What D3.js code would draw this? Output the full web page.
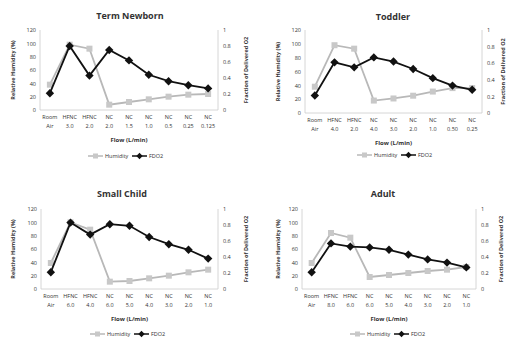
<!DOCTYPE html>
<html>
<head>
<meta charset="utf-8">
<script src="https://cdn.jsdelivr.net/npm/d3@7"></script>
<style>
  body { margin: 0; background: #fff; }
  text { font-family: "Open Sans", "Liberation Sans", sans-serif; fill: #333; }
</style>
</head>
<body>
<div id="chart"></div>
<script>
// categories (two lines each)
var newbornCats = [["Room","Air"],["HFNC","3.0"],["HFNC","2.0"],["NC","2.0"],["NC","1.5"],["NC","1.0"],["NC","0.5"],["NC","0.25"],["NC","0.125"]];
var toddlerCats = [["Room","Air"],["HFNC","4.0"],["HFNC","2.0"],["NC","4.0"],["NC","3.0"],["NC","2.0"],["NC","1.0"],["NC","0.50"],["NC","0.25"]];
var childCats   = [["Room","Air"],["HFNC","6.0"],["HFNC","4.0"],["NC","6.0"],["NC","5.0"],["NC","4.0"],["NC","3.0"],["NC","2.0"],["NC","1.0"]];
var adultCats   = [["Room","Air"],["HFNC","8.0"],["HFNC","6.0"],["NC","6.0"],["NC","5.0"],["NC","4.0"],["NC","3.0"],["NC","2.0"],["NC","1.0"]];

// relative humidity (%)
var newbornHum = [38, 98, 92, 8, 12, 16, 20, 23, 24];
var toddlerHum = [38, 98, 93, 18, 21, 25, 31, 36, 36];
var childHum   = [39, 100, 89, 11, 12, 16, 20, 25, 29];
var adultHum   = [39, 84, 77, 18, 21, 24, 27, 29, 33];

// fraction of delivered O2
var newbornFdo2 = [0.21, 0.80, 0.43, 0.75, 0.62, 0.44, 0.36, 0.31, 0.27];
var toddlerFdo2 = [0.21, 0.61, 0.55, 0.67, 0.62, 0.53, 0.42, 0.33, 0.28];
var childFdo2   = [0.21, 0.83, 0.68, 0.81, 0.79, 0.65, 0.56, 0.49, 0.38];
var adultFdo2   = [0.21, 0.57, 0.53, 0.52, 0.49, 0.43, 0.37, 0.33, 0.27];

var leftTicks = [0, 20, 40, 60, 80, 100, 120];
var rightTicks = [0, 0.2, 0.4, 0.6, 0.8, 1];

var humColor = "#b8b8b8";
var fdoColor = "#111";

var svg = d3.select("#chart").append("svg")
    .attr("width", 509)
    .attr("height", 342);

function drawPanel(p) {
    var g = svg.append("g");

    var x = d3.scaleBand()
        .domain(d3.range(p.cats.length))
        .range([p.left, p.right]);
    var yL = d3.scaleLinear().domain([0, 120]).range([p.bottom, p.top]);
    var yR = d3.scaleLinear().domain([0, 1]).range([p.bottom, p.top]);
    var cx = function (i) { return x(i) + x.bandwidth() / 2; };

    g.append("text")
        .attr("x", p.titleX)
        .attr("y", p.titleY)
        .attr("text-anchor", "middle")
        .style("font-size", "9px")
        .style("font-weight", "bold")
        .text(p.title);

    // axes lines
    g.append("line").attr("x1", p.left).attr("x2", p.left).attr("y1", p.top).attr("y2", p.bottom)
        .attr("stroke", "#ccc").attr("stroke-width", 0.8);
    g.append("line").attr("x1", p.right).attr("x2", p.right).attr("y1", p.top).attr("y2", p.bottom)
        .attr("stroke", "#ccc").attr("stroke-width", 0.8);
    g.append("line").attr("x1", p.left).attr("x2", p.right).attr("y1", p.bottom).attr("y2", p.bottom)
        .attr("stroke", "#ccc").attr("stroke-width", 0.8);

    var axL = d3.axisLeft(yL).tickValues(leftTicks).tickSize(0).tickPadding(4);
    var axR = d3.axisRight(yR).tickValues(rightTicks).tickSize(0).tickPadding(5)
        .tickFormat(function (d) { return d === 0 ? "0" : d3.format("~g")(d); });

    var gl = g.append("g").attr("transform", "translate(" + p.left + ",0)").call(axL);
    var gr = g.append("g").attr("transform", "translate(" + p.right + ",0)").call(axR);
    [gl, gr].forEach(function (a) {
        a.select(".domain").remove();
        a.selectAll("text").style("font-size", "5.5px").attr("fill", "#444");
    });

    // category labels
    var cl = g.append("g").selectAll("text")
        .data(p.cats)
        .enter().append("text")
        .attr("text-anchor", "middle")
        .attr("x", function (d, i) { return cx(i); })
        .attr("y", p.bottom + 9)
        .style("font-size", "5.5px")
        .attr("fill", "#444");
    cl.append("tspan").attr("x", function (d, i) { return cx(i); }).text(function (d) { return d[0]; });
    cl.append("tspan").attr("x", function (d, i) { return cx(i); }).attr("dy", 8.5).text(function (d) { return d[1]; });

    g.append("text")
        .attr("x", (p.left + p.right) / 2)
        .attr("y", p.bottom + 32)
        .attr("text-anchor", "middle")
        .style("font-size", "6px")
        .style("font-weight", "bold")
        .text("Flow (L/min)");

    g.append("text")
        .attr("transform", "translate(" + p.leftTitleX + "," + (p.top + p.bottom) / 2 + ") rotate(-90)")
        .attr("text-anchor", "middle")
        .style("font-size", "5.5px")
        .style("font-weight", "bold")
        .text("Relative Humidity (%)");

    g.append("text")
        .attr("transform", "translate(" + p.rightTitleX + "," + (p.top + p.bottom) / 2 + ") rotate(-90)")
        .attr("text-anchor", "middle")
        .style("font-size", "5.5px")
        .style("font-weight", "bold")
        .text("Fraction of Delivered O2");

    // humidity series
    var lineH = d3.line().x(function (d, i) { return cx(i); }).y(function (d) { return yL(d); });
    g.append("path").datum(p.hum)
        .attr("d", lineH)
        .attr("fill", "none")
        .attr("stroke", humColor)
        .attr("stroke-width", 1.8);
    g.append("g").selectAll("rect")
        .data(p.hum)
        .enter().append("rect")
        .attr("x", function (d, i) { return cx(i) - 3; })
        .attr("y", function (d) { return yL(d) - 3; })
        .attr("width", 6)
        .attr("height", 6)
        .attr("fill", "#c8c8c8");

    // FDO2 series
    var lineF = d3.line().x(function (d, i) { return cx(i); }).y(function (d) { return yR(d); });
    g.append("path").datum(p.fdo2)
        .attr("d", lineF)
        .attr("fill", "none")
        .attr("stroke", fdoColor)
        .attr("stroke-width", 1.8);
    var diamond = d3.symbol().type(d3.symbolDiamond2).size(45);
    g.append("g").selectAll("path")
        .data(p.fdo2)
        .enter().append("path")
        .attr("d", diamond)
        .attr("transform", function (d, i) { return "translate(" + cx(i) + "," + yR(d) + ")"; })
        .attr("fill", fdoColor);

    // legend
    var lg = g.append("g").attr("transform", "translate(" + p.legendX + "," + p.legendY + ")");
    lg.append("line").attr("x1", 0).attr("x2", 15).attr("stroke", humColor).attr("stroke-width", 1.5);
    lg.append("rect").attr("x", 5).attr("y", -2.5).attr("width", 5).attr("height", 5).attr("fill", "#c8c8c8");
    lg.append("text").attr("x", 17).attr("y", 2).style("font-size", "5.5px").attr("fill", "#444").text("Humidity");
    lg.append("line").attr("x1", 44).attr("x2", 59).attr("stroke", fdoColor).attr("stroke-width", 1.5);
    lg.append("path").attr("d", d3.symbol().type(d3.symbolDiamond2).size(25))
        .attr("transform", "translate(51.5,0)").attr("fill", fdoColor);
    lg.append("text").attr("x", 61).attr("y", 2).style("font-size", "5.5px").attr("fill", "#444").text("FDO2");
}

drawPanel({ title: "Term Newborn", cats: newbornCats, hum: newbornHum, fdo2: newbornFdo2,
    left: 40, right: 218, top: 30, bottom: 110, titleX: 130, titleY: 19,
    leftTitleX: 15, rightTitleX: 248, legendX: 88, legendY: 156 });
drawPanel({ title: "Toddler", cats: toddlerCats, hum: toddlerHum, fdo2: toddlerFdo2,
    left: 305, right: 482, top: 30, bottom: 113, titleX: 393, titleY: 20,
    leftTitleX: 280, rightTitleX: 505, legendX: 357, legendY: 155 });
drawPanel({ title: "Small Child", cats: childCats, hum: childHum, fdo2: childFdo2,
    left: 41, right: 218, top: 209, bottom: 289, titleX: 122, titleY: 197,
    leftTitleX: 15, rightTitleX: 248, legendX: 90, legendY: 334 });
drawPanel({ title: "Adult", cats: adultCats, hum: adultHum, fdo2: adultFdo2,
    left: 302, right: 476, top: 209, bottom: 289, titleX: 383, titleY: 197,
    leftTitleX: 280, rightTitleX: 503, legendX: 350, legendY: 334 });
</script>
</body>
</html>
